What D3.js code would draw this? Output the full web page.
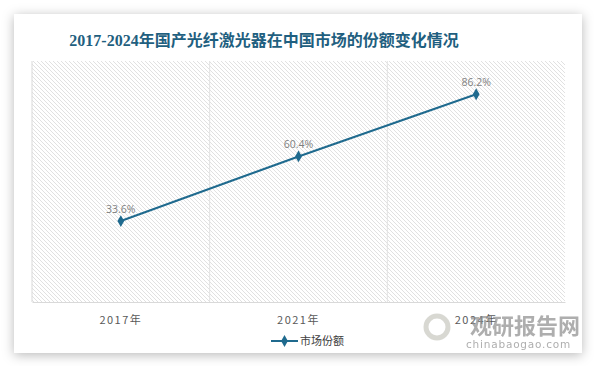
<!DOCTYPE html>
<html>
<head>
<meta charset="utf-8">
<script src="https://cdn.jsdelivr.net/npm/d3@7"></script>
<style>
  body { margin: 0; background: #fff; }
  svg { display: block; }
</style>
</head>
<body>
<div id="chart"></div>
<script>
const years = ['2017年', '2021年', '2024年']
const share = [33.6, 60.4, 86.2]
const seriesName = '市场份额'
const title = '2017-2024年国产光纤激光器在中国市场的份额变化情况'

const width = 594
const height = 366
const plot = { left: 32, right: 565, top: 61, bottom: 302 }
const lineColor = '#1f6a8e'

const svg = d3.select('#chart')
    .append('svg')
    .attr('width', width)
    .attr('height', height)

const defs = svg.append('defs')

// card shadow
const shadow = defs.append('filter')
    .attr('id', 'shadow')
    .attr('x', -0.1).attr('y', -0.1)
    .attr('width', 1.2).attr('height', 1.2)
shadow.append('feDropShadow')
    .attr('dx', 0).attr('dy', 2)
    .attr('stdDeviation', 6)
    .attr('flood-color', '#000')
    .attr('flood-opacity', 0.28)

// diagonal hatch for plot background
const hatch = defs.append('pattern')
    .attr('id', 'hatch')
    .attr('patternUnits', 'userSpaceOnUse')
    .attr('width', 4).attr('height', 4)
hatch.append('rect').attr('width', 4).attr('height', 4).attr('fill', '#fff')
hatch.append('path')
    .attr('d', 'M-1,-1 L5,5 M-1,3 L1,5 M3,-1 L5,1')
    .attr('stroke', '#dedede')
    .attr('stroke-width', 0.9)

svg.append('rect')
    .attr('x', 14).attr('y', 14)
    .attr('width', 568).attr('height', 339)
    .attr('fill', '#fff')
    .attr('filter', 'url(#shadow)')

// Title
svg.append('text')
    .attr('x', 264)
    .attr('y', 46)
    .attr('text-anchor', 'middle')
    .attr('fill', '#1f5f80')
    .attr('font-family', '"Liberation Serif", "Noto Sans CJK SC", serif')
    .attr('font-weight', 'bold')
    .attr('font-size', 16)
    .text(title)

const x = d3.scaleBand()
    .domain(years)
    .range([plot.left, plot.right])

const y = d3.scaleLinear()
    .domain([0, 100])
    .range([plot.bottom, plot.top])

// Plot area
svg.append('rect')
    .attr('x', plot.left).attr('y', plot.top)
    .attr('width', plot.right - plot.left)
    .attr('height', plot.bottom - plot.top)
    .attr('fill', 'url(#hatch)')

// Vertical gridlines between categories
svg.selectAll('.vgrid')
    .data(years.slice(1))
    .enter()
    .append('line')
    .attr('class', 'vgrid')
    .attr('x1', d => x(d)).attr('x2', d => x(d))
    .attr('y1', plot.top).attr('y2', plot.bottom)
    .attr('stroke', '#e2e2e2')

// Left edge and bottom axis line
svg.append('line')
    .attr('x1', plot.left).attr('x2', plot.left)
    .attr('y1', plot.top).attr('y2', plot.bottom)
    .attr('stroke', '#d9d9d9')

const xAxis = d3.axisBottom(x).tickSize(0).tickPadding(14)
const gx = svg.append('g')
    .attr('transform', `translate(0, ${plot.bottom})`)
    .call(xAxis)
gx.select('.domain').attr('stroke', '#d9d9d9')
gx.selectAll('text')
    .attr('fill', '#595959')
    .attr('font-size', 11)
    .attr('letter-spacing', 1.5)
    .attr('font-family', '"Noto Sans CJK SC", sans-serif')

// Line
const line = d3.line()
    .x((d, i) => x(years[i]) + x.bandwidth() / 2)
    .y(d => y(d))

svg.append('path')
    .datum(share)
    .attr('d', line)
    .attr('fill', 'none')
    .attr('stroke', lineColor)
    .attr('stroke-width', 2)

const diamond = d3.symbol().type(d3.symbolDiamond).size(40)

svg.selectAll('.pt')
    .data(share)
    .enter()
    .append('path')
    .attr('class', 'pt')
    .attr('d', diamond)
    .attr('transform', (d, i) => `translate(${x(years[i]) + x.bandwidth() / 2}, ${y(d)})`)
    .attr('fill', lineColor)

svg.selectAll('.lbl')
    .data(share)
    .enter()
    .append('text')
    .attr('class', 'lbl')
    .attr('x', (d, i) => x(years[i]) + x.bandwidth() / 2)
    .attr('y', d => y(d) - 8)
    .attr('text-anchor', 'middle')
    .attr('fill', '#7f7f7f')
    .attr('font-size', 10.5)
    .attr('font-family', '"Open Sans", "Noto Sans", sans-serif')
    .text(d => d.toFixed(1) + '%')

// Legend
const lg = svg.append('g').attr('transform', 'translate(271, 341)')
lg.append('line')
    .attr('x1', 0).attr('x2', 27)
    .attr('stroke', lineColor)
    .attr('stroke-width', 2)
lg.append('path')
    .attr('d', diamond)
    .attr('transform', 'translate(13.5, 0)')
    .attr('fill', lineColor)
lg.append('text')
    .attr('x', 29)
    .attr('y', 4)
    .attr('fill', '#404040')
    .attr('font-size', 11)
    .attr('font-family', '"Noto Sans CJK SC", sans-serif')
    .text(seriesName)

// Watermark (sits under the last axis label, as in the source image)
const wm = svg.append('g').attr('opacity', 0.7)
wm.append('circle')
    .attr('cx', 437).attr('cy', 327).attr('r', 11)
    .attr('fill', 'none')
    .attr('stroke', '#c8c8c0')
    .attr('stroke-width', 5)
wm.append('text')
    .attr('x', 470).attr('y', 334)
    .attr('fill', '#8c8c8c')
    .attr('font-size', 22)
    .attr('font-weight', 'bold')
    .attr('font-family', '"Noto Sans CJK SC", sans-serif')
    .text('观研报告网')
wm.append('text')
    .attr('x', 466).attr('y', 348)
    .attr('fill', '#8c8c8c')
    .attr('font-size', 10.5)
    .attr('letter-spacing', 0.8)
    .attr('font-family', '"DejaVu Sans", sans-serif')
    .text('chinabaogao.com')
</script>
</body>
</html>
